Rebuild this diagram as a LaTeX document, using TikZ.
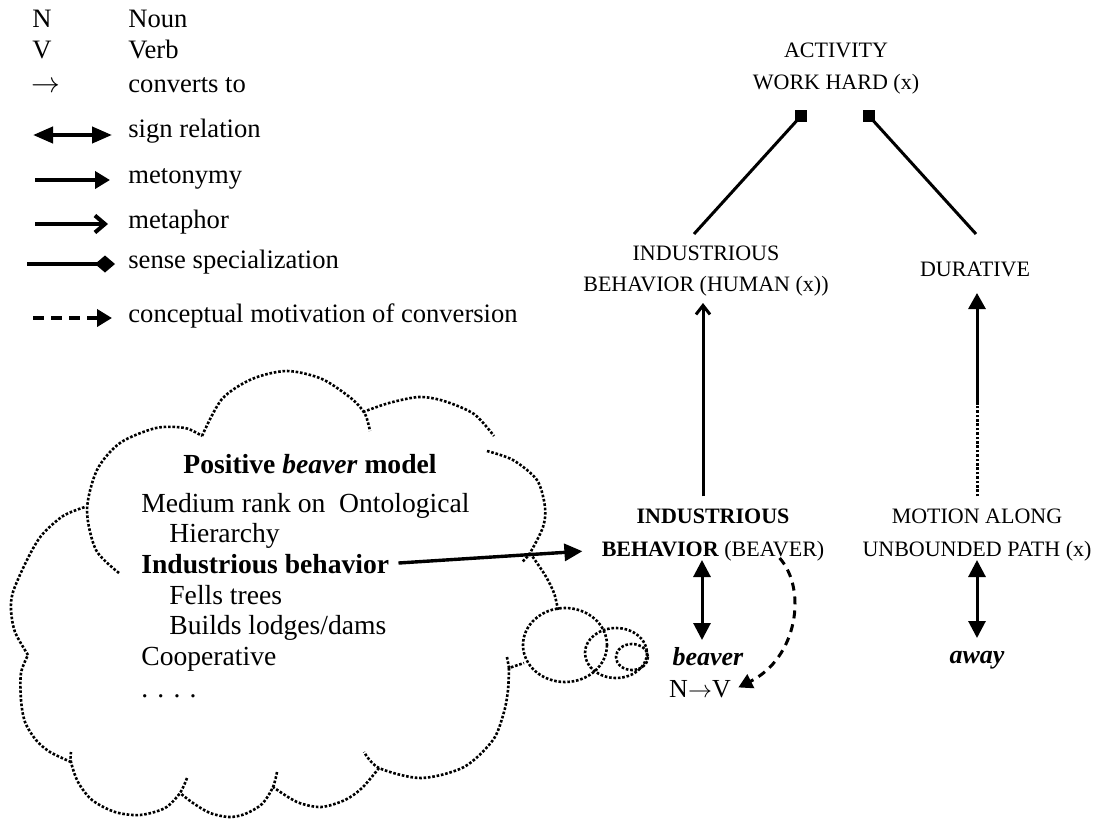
\documentclass[tikz,border=0pt]{standalone}
\usepackage{fontspec}
\setmainfont{Liberation Serif}
\usetikzlibrary{arrows.meta,calc}
\begin{document}
\begin{tikzpicture}[x=0.5pt,y=-0.5pt,
  lg/.style={inner sep=0pt, text height=0.66em, text depth=0pt, font=\fontsize{13.3}{16}\selectfont},
  lgl/.style={lg, anchor=west},
  ct/.style={inner sep=0pt, anchor=base west, font=\fontsize{13.8}{16}\selectfont},
  rt/.style={inner sep=0pt, text height=0.66em, text depth=0pt, font=\fontsize{11}{13}\selectfont},
  wt/.style={inner sep=0pt, text height=0.66em, text depth=0pt, font=\fontsize{13}{15}\selectfont},
  cl/.style={line width=1.3pt, dash pattern=on 1.3pt off 0.9pt},
  conn/.style={line width=1.5pt},
  lgarrow/.style={line width=2pt},
  sq/.style={fill=black, inner sep=0pt, minimum size=6pt},
  tri/.style={-{Triangle[length=8pt,width=8.5pt]}},
  dtri/.style={{Triangle[length=8.5pt,width=8.5pt]}-{Triangle[length=8.5pt,width=8.5pt]}},
]
\useasboundingbox (0,0) rectangle (1099,820);

% ---------------- legend ----------------
\node[lg] (lN) at (42,21) {N};
\node[lgl] (lNt) at (128,21) {Noun};
\node[lg] (lV) at (42,52) {V};
\node[lgl] (lVt) at (128,52) {Verb};
\node[lg] (lC) at (46,86) {$\rightarrow$};
\node[lgl] (lCt) at (128,86) {converts to};

\coordinate (s1) at (33,135); \coordinate (s2) at (112,135);
\draw[lgarrow,{Triangle[length=10pt,width=8pt]}-{Triangle[length=10pt,width=8pt]}] (s1) -- (s2);
\node[lgl] (lSt) at (128,131) {sign relation};

\coordinate (m1) at (35,180); \coordinate (m2) at (110,180);
\draw[lgarrow,-{Triangle[length=7.5pt,width=8.5pt]}] (m1) -- (m2);
\node[lgl] (lMt) at (128,177) {metonymy};

\coordinate (p1) at (35,224); \coordinate (p2) at (108,224);
\draw[lgarrow,-{Straight Barb[length=5pt,width=8.5pt]}] (p1) -- (p2);
\node[lgl] (lPt) at (128,222) {metaphor};

\coordinate (d1) at (27,264); \coordinate (d2) at (115,264);
\draw[lgarrow,-{Diamond[length=10pt,width=8.5pt]}] (d1) -- (d2);
\node[lgl] (lDt) at (128,262) {sense specialization};

\coordinate (c1) at (33,318); \coordinate (c2) at (112,318);
\draw[lgarrow,dash pattern=on 5.5pt off 3.5pt,-{Triangle[length=7.5pt,width=8.5pt]}] (c1) -- (c2);
\node[lgl] (lCCt) at (128,316) {conceptual motivation of conversion};

% ---------------- right part ----------------
\node[rt] (act1) at (836,51) {ACTIVITY};
\node[rt] (act2) at (836,83) {WORK HARD (x)};
\node[sq] (sqL) at (801,116) {};
\node[sq] (sqR) at (869,116) {};

\node[rt] (ihh1) at (706,254) {INDUSTRIOUS};
\node[rt] (ihh2) at (706,285) {BEHAVIOR (HUMAN (x))};
\node[rt] (dur) at (975,270) {DURATIVE};

\node[rt] (ibb1) at (713,517) {\textbf{INDUSTRIOUS}};
\node[rt] (ibb2) at (713,550) {\textbf{BEHAVIOR} (BEAVER)};
\node[rt] (mot1) at (977,517) {MOTION ALONG};
\node[rt] (mot2) at (977,550) {UNBOUNDED PATH (x)};

\node[wt] (bv) at (708,659) {\textbf{\textit{beaver}}};
\node[wt] (nv) at (700,691) {N$\rightarrow$V};
\node[wt] (aw) at (977,657) {\textbf{\textit{away}}};

% sense specialization lines
\draw[conn] (sqL.center) -- ([xshift=-6pt,yshift=6.5pt]ihh1.north);
\draw[conn] (sqR.center) -- ([xshift=0.5pt,yshift=14.5pt]dur.north);

% metaphor
\draw[conn,-{Straight Barb[length=4.5pt,width=7pt]},shorten <=6.8pt,shorten >=5.5pt]
  ([xshift=-5pt]ibb1.north) -- ([xshift=-1.5pt]ihh2.south);

% metonymy (partly dotted)
\coordinate (mm) at (977,405);
\draw[cl,line width=1.5pt,shorten <=6.8pt] (mot1.north) -- (mm);
\draw[conn,tri,shorten >=8pt] (mm) -- (dur.south -| mm);

% sign relations
\draw[conn,dtri,shorten <=1.5pt,shorten >=6pt] ([xshift=-5.5pt]ibb2.south) -- ([xshift=-3pt]bv.north);
\draw[conn,dtri,shorten <=1.5pt,shorten >=6pt] (mot2.south) -- (aw.north);

% conceptual motivation
\draw[conn,dash pattern=on 4pt off 3pt,-{Triangle[length=7pt,width=7.5pt]},shorten >=4pt]
  ([xshift=-22.5pt,yshift=-0.5pt]ibb2.south east) .. controls +(28,32) and +(66,-33) .. (nv.east);

% ---------------- cloud ----------------
\node[ct,anchor=base] (ctitle) at (310,473) {\textbf{Positive \textit{beaver} model}};
\node[ct] (c1t) at (141,512) {Medium rank on\ \ Ontological};
\node[ct] (c2t) at (169,542) {Hierarchy};
\node[ct] (cind) at (141,573) {\textbf{Industrious behavior}};
\node[ct] (c4t) at (169,604) {Fells trees};
\node[ct] (c5t) at (169,634) {Builds lodges/dams};
\node[ct] (c6t) at (141,665) {Cooperative};
\node[ct] (c7t) at (141,697) {. . . .};

\draw[conn,line width=1.7pt,-{Triangle[length=9pt,width=8.5pt]},shorten <=4.5pt,shorten >=9.5pt]
  (cind.east) -- (ibb2.west);

\draw[cl] plot[smooth] coordinates {(119,573)(96,550)(87,510)(97,470)(120,443)(156,428)(185,428)(202,436)};
\draw[cl] plot[smooth] coordinates {(202,436)(222,399)(252,379)(287,371)(322,379)(352,399)(365,414)(370,431)};
\draw[cl] plot[smooth] coordinates {(363,412)(389,403)(419,397)(444,401)(474,414)(494,436)};
\draw[cl] plot[smooth] coordinates {(487,451)(513,460)(537,480)(545,507)(543,527)(530,553)(522,562)};
\draw[cl] plot[smooth] coordinates {(530,553)(545,575)(554,593)(558,610)};
\draw[cl] (565,645) ellipse [x radius=42, y radius=37];
\draw[cl] (616,653) ellipse [x radius=31, y radius=25];
\draw[cl] (632,657) ellipse [x radius=16, y radius=13];
\draw[cl] (507,657) -- (509,668) -- (524,663);
\draw[cl] plot[smooth] coordinates {(509,668)(508,690)(504,712)(493,740)(464,767)(421,778)(379,768)(364,752)};
\draw[cl] plot[smooth] coordinates {(379,768)(362,788)(345,800)(321,807)(297,802)(273,787)};
\draw[cl] plot[smooth] coordinates {(277,772)(273,787)(262,804)(245,814)(229,817)(210,813)(193,803)(180,793)};
\draw[cl] plot[smooth] coordinates {(187,778)(180,793)(165,808)(140,815)(115,812)(92,800)(78,782)(71,762)(71,752)};
\draw[cl] plot[smooth] coordinates {(71,762)(50,752)(36,740)(25,722)(21,700)(21,673)(28,655)};
\draw[cl] plot[smooth] coordinates {(28,655)(15,632)(11,610)(13,592)(26,562)(41,536)(63,516)(85,507)};
\end{tikzpicture}
\end{document}
